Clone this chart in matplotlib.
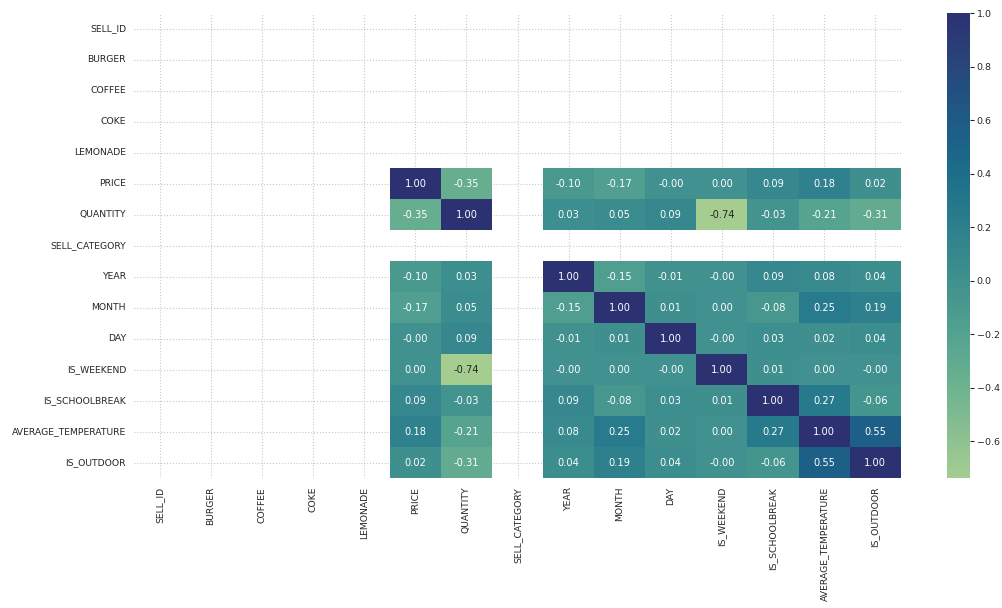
import numpy as np
import pandas as pd
import matplotlib
matplotlib.use("Agg")
import matplotlib.pyplot as plt
import seaborn as sns

# Column order of the sales dataset
columns = ["SELL_ID", "BURGER", "COFFEE", "COKE", "LEMONADE", "PRICE", "QUANTITY",
           "SELL_CATEGORY", "YEAR", "MONTH", "DAY", "IS_WEEKEND", "IS_SCHOOLBREAK",
           "AVERAGE_TEMPERATURE", "IS_OUTDOOR"]

# Variables with non-constant values (the rest give NaN correlations)
numeric_vars = ["PRICE", "QUANTITY", "YEAR", "MONTH", "DAY", "IS_WEEKEND",
                "IS_SCHOOLBREAK", "AVERAGE_TEMPERATURE", "IS_OUTDOOR"]

# Pairwise correlations between the numeric variables
price          = [1.00, -0.35, -0.10, -0.17, -0.0,  0.00,  0.09,  0.18,  0.02]
quantity       = [-0.35, 1.00,  0.03,  0.05,  0.09, -0.74, -0.03, -0.21, -0.31]
year           = [-0.10, 0.03,  1.00, -0.15, -0.01, -0.0,   0.09,  0.08,  0.04]
month          = [-0.17, 0.05, -0.15,  1.00,  0.01,  0.00, -0.08,  0.25,  0.19]
day            = [-0.0,  0.09, -0.01,  0.01,  1.00, -0.0,   0.03,  0.02,  0.04]
is_weekend     = [0.00, -0.74, -0.0,   0.00, -0.0,   1.00,  0.01,  0.00, -0.0]
is_schoolbreak = [0.09, -0.03,  0.09, -0.08,  0.03,  0.01,  1.00,  0.27, -0.06]
avg_temp       = [0.18, -0.21,  0.08,  0.25,  0.02,  0.00,  0.27,  1.00,  0.55]
is_outdoor     = [0.02, -0.31,  0.04,  0.19,  0.04, -0.0,  -0.06,  0.55,  1.00]

rows = [price, quantity, year, month, day, is_weekend, is_schoolbreak, avg_temp, is_outdoor]

corr = pd.DataFrame(np.nan, index=columns, columns=columns)
for name, vals in zip(numeric_vars, rows):
    corr.loc[name, numeric_vars] = vals

sns.set_theme(style="whitegrid")
plt.rcParams["font.family"] = ["DejaVu Sans"]

fig = plt.figure(figsize=(10.03, 6.08), dpi=100)
ax = fig.add_axes([0.134, 0.213, 0.764, 0.765])
cax = fig.add_axes([0.944, 0.213, 0.023, 0.765])

sns.heatmap(corr, ax=ax, cbar_ax=cax, cmap="crest", annot=True, fmt=".2f",
            annot_kws={"size": 7.1})

ax.set_axisbelow(True)
ax.grid(True, linestyle=":", color="#c8c8c8", linewidth=0.8)
ax.tick_params(axis="both", length=0, labelsize=6.7, colors="#262626", pad=6)
ax.set_xticklabels(columns, rotation=90)
ax.set_yticklabels(columns, rotation=0)
for s in ax.spines.values():
    s.set_visible(False)

cax.tick_params(axis="y", length=3, width=0.8, labelsize=6.8, colors="#262626", pad=2)
for s in cax.spines.values():
    s.set_visible(False)

fig.savefig("out.png", dpi=100)
